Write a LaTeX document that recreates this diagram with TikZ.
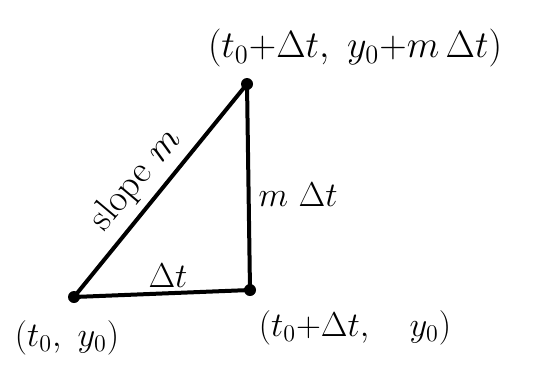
\documentclass[tikz,border=0pt]{standalone}
\usepackage{amsmath}
\usetikzlibrary{positioning}

\begin{document}
\begin{tikzpicture}[
  x=1pt, y=-1pt,
  dot/.style={circle, fill=black, inner sep=0pt, minimum size=12pt},
  lbl/.style={font=\LARGE, scale=2, inner sep=0pt},
  side/.style={line width=4pt, line cap=round}
]
\useasboundingbox (0,0) rectangle (540,370);

\node[dot] (p0) at (74,297) {};
\node[dot] (p1) at (250,290) {};
\node[dot] (p2) at (247,84) {};

\draw[side] (p0.center) -- (p1.center);
\draw[side] (p1.center) -- (p2.center);
\draw[side] (p0.center) -- (p2.center);

\node[lbl, scale=1.1] (top) at (355,48) {$(t_0{+}\Delta t,\ y_0{+}m\,\Delta t)$};
\node[lbl] (left) at (67,338) {$(t_0,\ y_0)$};
\node[lbl] (right) at (355,328) {$(t_0{+}\Delta t,\quad y_0)$};

\node[lbl, scale=1.1, rotate=50] (slope) at (136,180) {slope $m$};
\node[lbl] (rise) at (298,195) {$m\ \Delta t$};
\node[lbl] (run) at (168,276) {$\Delta t$};

\end{tikzpicture}
\end{document}
